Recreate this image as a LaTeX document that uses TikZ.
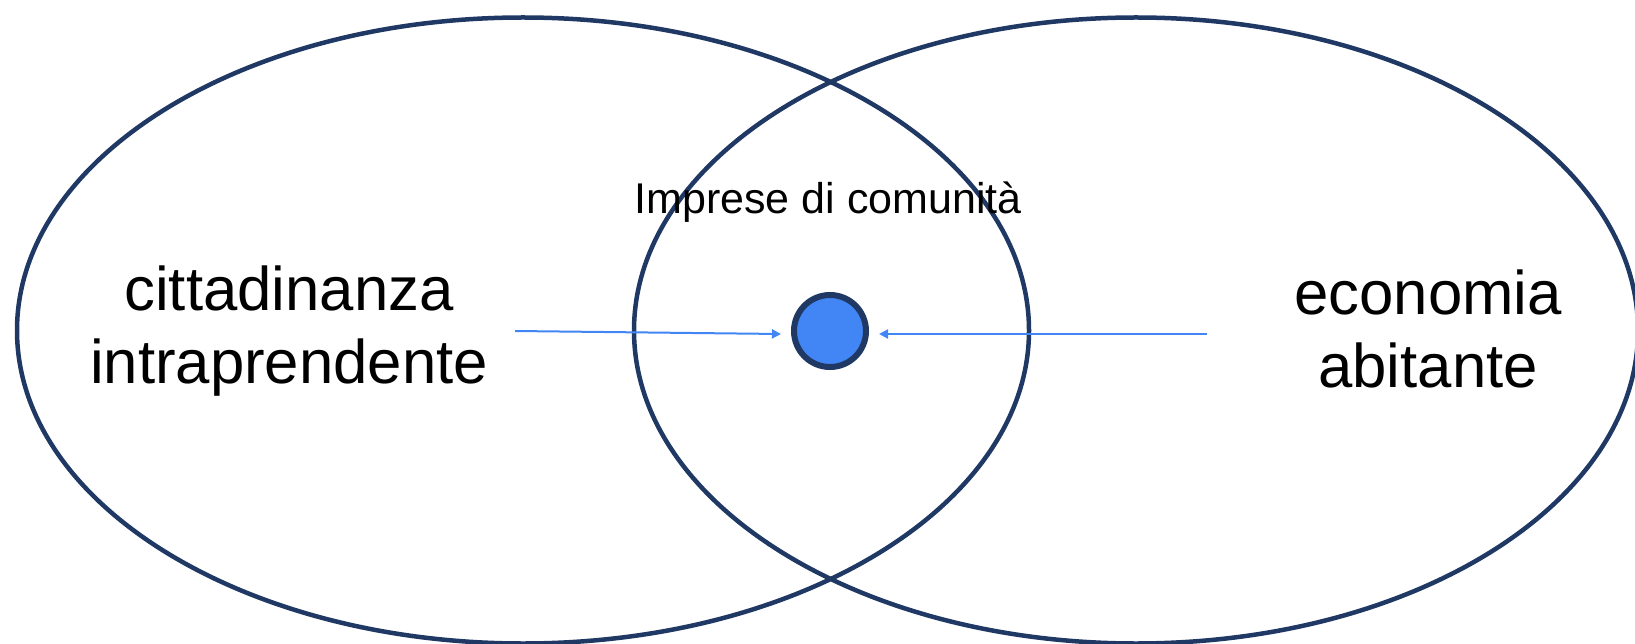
\documentclass[tikz,border=0pt]{standalone}
\usepackage{fontspec}
\setmainfont{Liberation Sans}
\usetikzlibrary{shapes.geometric,arrows.meta}
\definecolor{navy}{RGB}{31,56,100}
\definecolor{blu}{RGB}{66,133,244}
\tikzset{
  setbox/.style={draw=navy, line width=4.5pt, ellipse, minimum height=626pt, inner sep=0pt},
  bigtext/.style={align=center, font=\fontsize{61.7}{73}\selectfont, inner sep=0pt},
  pointer/.style={draw=blu, line width=2pt, -{Triangle[length=9pt,width=9pt]}},
}
\begin{document}
\begin{tikzpicture}[x=1pt,y=-1pt]
\useasboundingbox (0,0) rectangle (1635,644);
\node[setbox, minimum width=1012pt] (left) at (523,330.5) {};
\node[setbox, minimum width=1004pt] (right) at (1136,330.5) {};
\node[circle, draw=navy, fill=blu, line width=6pt, minimum size=72pt, inner sep=0pt] (core) at (830,331) {};
\node[bigtext] (cit) at (289,331) {cittadinanza\\intraprendente};
\node[bigtext] (eco) at (1428,329) {economia\\abitante};
\node[font=\fontsize{43}{50}\selectfont, inner sep=0pt] (imp) at (828,202) {Imprese di comunità};
\coordinate (la) at (515,331);
\coordinate (ra) at (1207,334);
\draw[pointer] (la) -- (781,334);
\draw[pointer] (ra) -- (879,334);
\end{tikzpicture}
\end{document}
